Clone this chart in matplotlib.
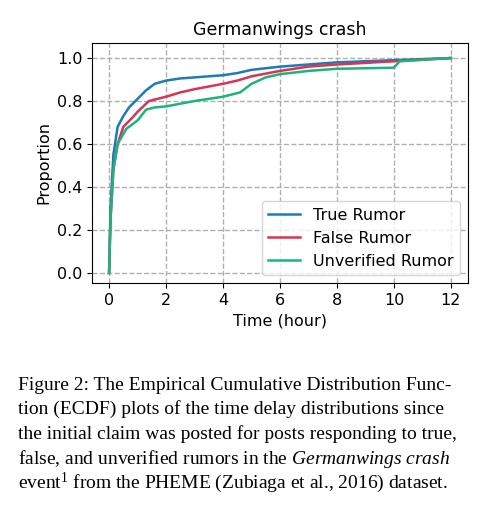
import matplotlib.pyplot as plt

plt.rcParams['mathtext.fontset'] = 'custom'
plt.rcParams['mathtext.rm'] = 'Liberation Serif'
plt.rcParams['mathtext.it'] = 'Liberation Serif:italic'

# curves (hours, proportion)
true_x = [0, 0.05, 0.15, 0.3, 0.5, 0.7, 1.0, 1.3, 1.6, 2, 2.5, 3, 4, 4.5, 5, 6, 7, 8, 10, 12]
true_y = [0, 0.3, 0.55, 0.68, 0.73, 0.77, 0.81, 0.85, 0.88, 0.895, 0.905, 0.91, 0.92, 0.93, 0.945, 0.96, 0.97, 0.98, 0.99, 1.0]
false_x = [0, 0.05, 0.15, 0.3, 0.5, 0.8, 1.0, 1.4, 2, 2.5, 3, 4, 4.5, 5, 6, 7, 8, 10, 12]
false_y = [0, 0.25, 0.48, 0.6, 0.68, 0.72, 0.75, 0.8, 0.82, 0.84, 0.855, 0.88, 0.895, 0.915, 0.94, 0.96, 0.97, 0.985, 1.0]
unv_x = [0, 0.05, 0.15, 0.3, 0.6, 1.0, 1.3, 1.6, 2, 3, 4, 4.6, 5, 5.5, 6, 7, 8, 10, 10.2, 12]
unv_y = [0, 0.25, 0.48, 0.6, 0.67, 0.71, 0.76, 0.77, 0.775, 0.8, 0.82, 0.84, 0.88, 0.91, 0.925, 0.94, 0.95, 0.955, 0.985, 1.0]

fig = plt.figure(figsize=(4.97, 5.14), dpi=100)
ax = fig.add_axes([92/497, 1-283/514, 376/497, 240/514])

ax.plot(true_x, true_y, color='#1f7ab8', lw=1.8, label='True Rumor')
ax.plot(false_x, false_y, color='#d93355', lw=1.8, label='False Rumor')
ax.plot(unv_x, unv_y, color='#1db37a', lw=1.8, label='Unverified Rumor')

ax.set_xlim(-0.6, 12.6)
ax.set_ylim(-0.047, 1.07)
ax.set_xticks(range(0, 13, 2))
ax.set_yticks([0, 0.2, 0.4, 0.6, 0.8, 1.0])
ax.grid(True, ls='--', color='#b0b0b0', lw=1)
ax.tick_params(labelsize=11.5)
ax.set_xlabel('Time (hour)', fontsize=11.5)
ax.set_ylabel('Proportion', fontsize=11.5)
ax.set_title('Germanwings crash', fontsize=12.5)
ax.legend(loc='lower right', fontsize=11.5)

lines = ["Figure 2: The Empirical Cumulative Distribution Func-",
         "tion (ECDF) plots of the time delay distributions since",
         "the initial claim was posted for posts responding to true,",
         "false, and unverified rumors in the $\\it{Germanwings\\ crash}$",
         "event$^1$ from the PHEME (Zubiaga et al., 2016) dataset."]
for i, line in enumerate(lines):
    fig.text(18/497, 1-(385 + i*24.5)/514, line, family='Liberation Serif',
             fontsize=14, va='center', ha='left')

fig.savefig('out.png')
